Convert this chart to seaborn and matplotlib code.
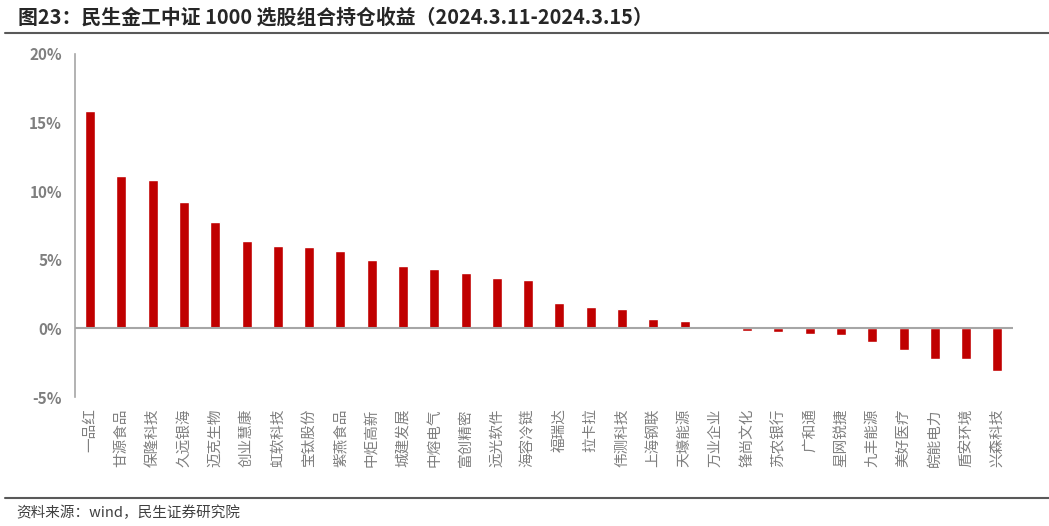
import matplotlib
matplotlib.use("Agg")
import matplotlib.pyplot as plt
import seaborn as sns
import pandas as pd
from matplotlib.ticker import FuncFormatter

# 数据：股票名称与持仓收益(%)
stocks = ["一品红", "甘源食品", "保隆科技", "久远银海", "迈克生物", "创业慧康", "虹软科技",
          "宝钛股份", "紫燕食品", "中炬高新", "城建发展", "中熔电气", "富创精密", "远光软件",
          "海容冷链", "福瑞达", "拉卡拉", "伟测科技", "上海钢联", "天壕能源", "万业企业",
          "锋尚文化", "苏农银行", "广和通", "星网锐捷", "九丰能源", "美好医疗", "皖能电力",
          "盾安环境", "兴森科技"]
returns = [15.85, 11.1, 10.82, 9.2, 7.78, 6.35, 6.01, 5.94, 5.65, 4.97, 4.56, 4.31, 4.02,
           3.66, 3.54, 1.82, 1.57, 1.40, 0.72, 0.57, 0.05, -0.18, -0.26, -0.38, -0.45,
           -1.0, -1.57, -2.2, -2.25, -3.07]
yticks = [-5, 0, 5, 10, 15, 20]

sns.set_style("white")
plt.rcParams['font.family'] = ['Noto Sans CJK SC', 'DejaVu Sans']

df = pd.DataFrame({"股票": stocks, "收益": returns})

fig = plt.figure(figsize=(10.49, 5.26), dpi=100)
ax = fig.add_axes([74.5 / 1049, 1 - 397 / 526, (1013 - 74.5) / 1049, (397 - 54) / 526])

sns.barplot(data=df, x="股票", y="收益", color="#C00000", width=0.32, ax=ax,
            saturation=1, order=stocks)

ax.set_xlim(-0.5, len(stocks) - 0.5)
ax.set_ylim(-5, 20)
ax.set_yticks(yticks)
ax.yaxis.set_major_formatter(FuncFormatter(lambda v, p: f"{v:.0f}%"))
ax.set_xlabel("")
ax.set_ylabel("")

# 坐标轴样式
for s in ["top", "right", "bottom"]:
    ax.spines[s].set_visible(False)
ax.spines["left"].set_color("#A6A6A6")
ax.spines["left"].set_linewidth(1.2)
ax.axhline(0, color="#A6A6A6", linewidth=1.5, zorder=3)

ax.tick_params(axis="y", direction="out", length=5, width=1.2, color="#A6A6A6",
               labelsize=11, labelcolor="#7F7F7F", pad=4)
for t in ax.get_yticklabels():
    t.set_fontweight("bold")
ax.tick_params(axis="x", length=0, labelsize=10.5, labelcolor="#7F7F7F", pad=8,
               labelrotation=90)
for t in ax.get_xticklabels():
    t.set_rotation(90)
    t.set_va("top")

# 标题与来源
fig.text(18 / 1049, 1 - 17 / 526, "图23：民生金工中证 1000 选股组合持仓收益（2024.3.11-2024.3.15）",
         fontsize=14.3, fontweight="bold", color="#262626", va="center", ha="left")
fig.add_artist(plt.Line2D([5 / 1049, 1], [1 - 33 / 526, 1 - 33 / 526], color="#595959",
                          linewidth=1.5, transform=fig.transFigure))
fig.add_artist(plt.Line2D([5 / 1049, 1], [1 - 498 / 526, 1 - 498 / 526], color="#595959",
                          linewidth=1.5, transform=fig.transFigure))
fig.text(16 / 1049, 1 - 513 / 526, "资料来源：wind，民生证券研究院", fontsize=10.5,
         color="#404040", va="center", ha="left")

plt.savefig("out.png", dpi=100)
plt.close()
